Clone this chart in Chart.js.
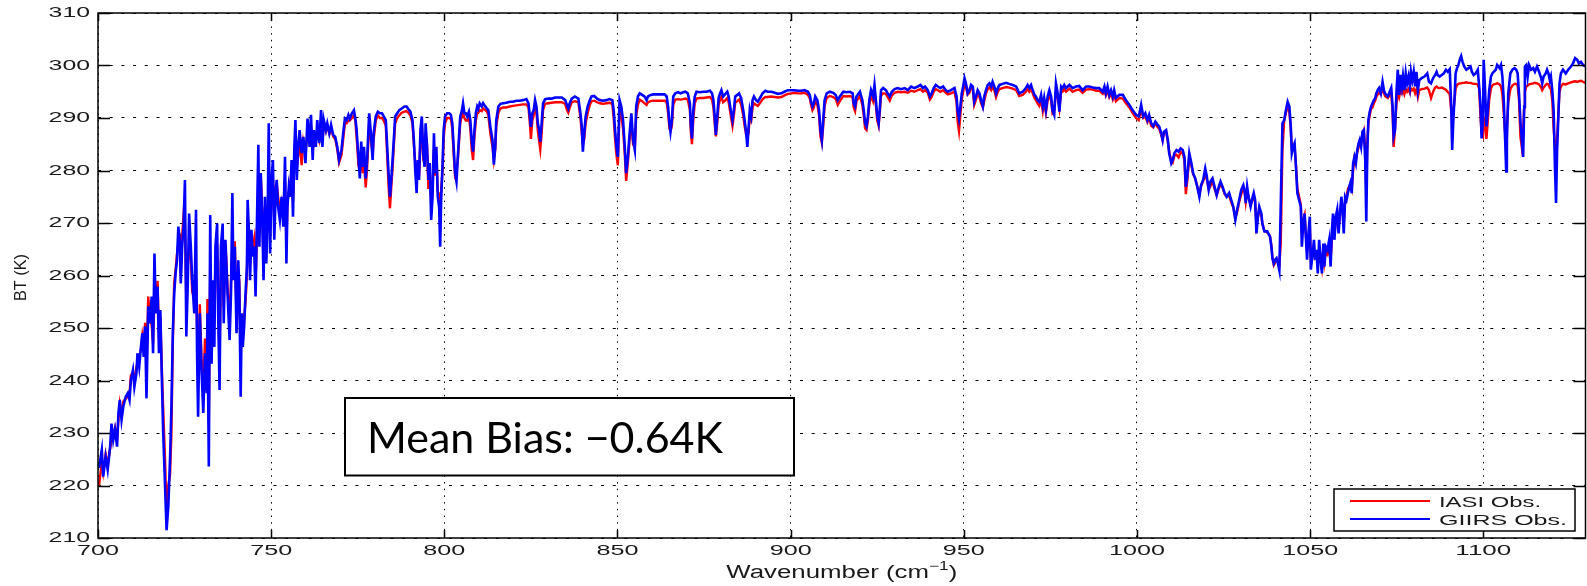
<!DOCTYPE html>
<html lang="en">
  <head>
    <meta charset="UTF-8" />
    <title>IASI vs GIIRS BT</title>
    <style>
      * {
        margin: 0;
        padding: 0;
      }
      body {
        background: #fff;
        width: 1587px;
        height: 586px;
        overflow: hidden;
      }
    </style>
  </head>
  <body>
    <canvas id="myChart" width="1587" height="586"></canvas>

    <script src="https://cdn.jsdelivr.net/npm/chart.js"></script>

    <script>
      // data block - wavenumber (cm-1)
      const WAVENUMBER = [
        // 700 - 761
        700.3, 701.1, 701.5, 702.2, 702.8, 703.5, 703.9, 704.4, 704.9, 705.5,
        705.9, 706.3, 706.8, 707.3, 708.0, 708.6, 709.1, 709.5, 710.1, 710.5,
        711.1, 711.4, 711.9, 712.4, 712.8, 713.2, 713.6, 714.0, 714.5, 715.0,
        715.5, 715.9, 716.3, 716.7, 717.2, 717.6, 718.0, 718.4, 718.8, 719.3,
        719.8, 720.3, 720.8, 721.2, 721.6, 722.0, 722.4, 722.8, 723.2, 723.6,
        723.9, 724.3, 724.7, 725.1, 725.5, 725.9, 726.3, 726.8, 727.2, 727.8,
        728.3, 728.6, 728.9, 729.4, 729.9, 730.4, 730.9, 731.4, 731.6, 732.0,
        732.4, 732.8, 733.2, 733.6, 733.9, 734.4, 734.7, 735.1, 735.5, 736.0,
        736.3, 736.8, 737.4, 738.0, 738.4, 738.8, 739.1, 739.5, 740.0, 740.5,
        740.8, 741.2, 741.5, 741.8, 742.2, 742.6, 743.0, 743.2, 743.6, 743.9,
        744.3, 744.7, 745.1, 745.5, 745.9, 746.3, 746.6, 747.0, 747.5, 747.8,
        748.2, 748.6, 749.0, 749.3, 749.7, 750.1, 750.5, 750.9, 751.3, 751.6,
        752.0, 752.5, 753.0, 753.5, 754.0, 754.4, 754.7, 755.1, 755.5, 755.9,
        756.3, 756.7, 757.0, 757.4, 757.8, 758.2, 758.8, 759.3, 759.9, 760.5,
        761.1,
        // 761 - 850
        761.5, 762.0, 762.3, 762.9, 763.3, 763.9, 764.4, 764.8, 765.2, 765.8,
        766.2, 766.8, 767.3, 767.9, 768.5, 769.1, 769.6, 770.3, 770.8, 771.3,
        771.8, 772.3, 772.7, 773.3, 773.9, 774.3, 774.6, 775.2, 775.6, 776.0,
        776.4, 776.8, 777.3, 777.7, 778.3, 778.8, 779.3, 779.6, 780.2, 780.8,
        781.4, 782.0, 782.5, 783.1, 783.5, 783.9, 784.3, 784.6, 785.0, 785.4,
        785.8, 786.4, 787.0, 787.7, 788.5, 789.1, 789.6, 790.2, 790.8, 791.2,
        791.6, 792.0, 792.3, 792.7, 793.1, 793.5, 793.9, 794.3, 794.6, 795.0,
        795.4, 795.8, 796.2, 796.6, 797.0, 797.3, 797.7, 798.1, 798.5, 798.8,
        799.1, 799.5, 799.8, 800.2, 800.8, 801.4, 801.9, 802.3, 802.7, 803.1,
        803.5, 803.9, 804.3, 804.6, 805.0, 805.4, 805.8, 806.2, 806.6, 807.1,
        807.5, 807.9, 808.3, 808.7, 809.1, 809.5, 809.8, 810.2, 810.8, 811.2,
        811.8, 812.3, 812.7, 813.3, 813.9, 814.3, 814.7, 815.0, 815.6, 816.2,
        817.0, 817.9, 818.9, 819.8, 820.8, 821.8, 822.7, 823.7, 824.3, 824.7,
        825.0, 825.4, 825.8, 826.2, 826.6, 827.0, 827.4, 827.7, 828.1, 828.5,
        829.1, 830.0, 831.0, 832.0, 832.9, 833.9, 834.9, 835.4, 835.8, 836.2,
        836.8, 837.7, 838.7, 839.3, 839.7, 840.0, 840.4, 840.8, 841.4, 842.0,
        842.5, 843.3, 844.1, 844.9, 845.8, 846.8, 847.7, 848.5, 848.9, 849.3,
        849.7,
        // 850 - 950
        850.1, 850.6, 851.1, 851.6, 852.1, 852.5, 853.0, 853.5, 854.0, 854.5,
        855.0, 855.4, 855.9, 856.4, 857.1, 857.8, 858.4, 858.8, 859.6, 860.3,
        861.1, 861.9, 862.6, 863.6, 864.2, 864.6, 865.0, 865.3, 865.7, 866.1,
        866.7, 867.5, 868.2, 869.0, 869.6, 870.3, 870.9, 871.2, 871.5, 871.9,
        872.3, 872.8, 873.8, 874.8, 875.7, 876.7, 877.3, 877.7, 878.0, 878.4,
        878.8, 879.2, 879.6, 880.0, 880.5, 880.9, 881.3, 881.7, 882.1, 882.7,
        883.2, 883.6, 884.0, 884.6, 885.1, 885.7, 886.3, 886.7, 887.1, 887.5,
        887.8, 888.2, 888.6, 889.0, 889.4, 890.0, 890.5, 891.1, 891.9, 892.7,
        893.4, 894.4, 895.4, 896.3, 897.3, 898.2, 899.2, 900.2, 901.1, 902.1,
        903.0, 904.0, 905.0, 905.5, 905.9, 906.3, 906.7, 907.1, 907.7, 908.2,
        908.6, 909.0, 909.4, 909.8, 910.4, 911.3, 912.3, 913.0, 913.6, 914.2,
        915.2, 916.1, 917.1, 917.9, 918.2, 918.6, 919.0, 920.0, 920.7, 921.1,
        921.5, 921.9, 922.3, 922.7, 923.2, 923.8, 924.2, 924.6, 925.0, 925.4,
        925.7, 926.1, 926.7, 927.5, 928.0, 928.6, 929.2, 930.0, 930.9, 931.9,
        932.9, 933.8, 934.8, 935.7, 936.7, 937.5, 938.2, 938.8, 939.6, 940.2,
        940.7, 941.3, 941.9, 942.5, 943.2, 944.0, 944.8, 945.4, 946.3, 947.3,
        947.9, 948.2, 948.6, 949.0, 949.4, 949.8,
        // 950 - 1041
        950.2, 950.6, 951.1, 951.6, 952.1, 952.6, 953.0, 953.5, 954.0, 954.5,
        955.0, 955.5, 955.9, 956.4, 956.9, 957.4, 957.9, 958.3, 958.8, 959.3,
        959.8, 960.3, 961.2, 962.2, 963.1, 964.1, 965.1, 966.0, 967.0, 967.9,
        968.4, 968.9, 969.4, 969.9, 970.4, 970.8, 971.3, 971.8, 972.3, 972.8,
        973.2, 973.7, 974.2, 974.7, 975.2, 975.6, 976.1, 976.6, 977.1, 977.6,
        978.1, 978.5, 979.0, 979.5, 980.5, 981.4, 982.4, 983.3, 984.3, 985.3,
        986.2, 987.2, 988.2, 989.1, 990.1, 990.6, 991.0, 991.5, 992.0, 992.5,
        993.0, 993.4, 993.9, 994.9, 995.9, 996.8, 997.8, 998.7, 999.7, 1000.5,
        1000.9, 1001.2, 1001.8, 1002.4, 1003.0, 1003.5, 1004.1, 1004.7, 1005.3, 1005.9,
        1006.4, 1007.0, 1007.4, 1007.8, 1008.4, 1008.9, 1009.3, 1009.9, 1010.3, 1010.8,
        1011.4, 1012.0, 1012.6, 1013.2, 1013.7, 1014.1, 1014.5, 1015.1, 1015.7, 1016.2,
        1016.8, 1017.4, 1018.0, 1018.5, 1019.1, 1019.7, 1020.1, 1020.7, 1021.2, 1021.8,
        1022.4, 1023.0, 1023.6, 1024.1, 1024.7, 1025.3, 1025.9, 1026.6, 1027.2, 1027.8,
        1028.4, 1028.9, 1029.5, 1030.1, 1030.7, 1031.1, 1031.4, 1031.8, 1032.2, 1032.8,
        1033.4, 1033.7, 1034.1, 1034.5, 1034.9, 1035.3, 1035.9, 1036.2, 1036.8, 1037.6,
        1038.4, 1038.8, 1039.1, 1039.5, 1039.9, 1040.3, 1040.7, 1041.1,
        // 1041 - 1130
        1041.5, 1042.0, 1042.5, 1043.0, 1043.5, 1044.0, 1044.4, 1044.7, 1045.1, 1045.5,
        1045.9, 1046.3, 1046.8, 1047.3, 1047.6, 1048.0, 1048.4, 1048.8, 1049.1, 1049.5,
        1049.9, 1050.2, 1050.7, 1051.1, 1051.4, 1051.8, 1052.2, 1052.6, 1053.0, 1053.4,
        1053.8, 1054.1, 1054.5, 1055.0, 1055.5, 1055.9, 1056.3, 1056.6, 1057.0, 1057.4,
        1057.8, 1058.2, 1058.6, 1059.0, 1059.3, 1059.7, 1060.1, 1060.5, 1060.9, 1061.3,
        1061.6, 1062.0, 1062.4, 1062.8, 1063.2, 1063.6, 1064.0, 1064.3, 1064.7, 1065.1,
        1065.5, 1065.9, 1066.2, 1066.5, 1066.8, 1067.2, 1067.6, 1068.0, 1068.4, 1068.8,
        1069.1, 1069.5, 1069.9, 1070.4, 1070.9, 1071.3, 1071.6, 1072.0, 1072.4, 1072.8,
        1073.4, 1073.8, 1074.1, 1074.5, 1074.9, 1075.3, 1075.7, 1076.1, 1076.5, 1076.8,
        1077.2, 1077.6, 1078.0, 1078.4, 1078.8, 1079.1, 1079.5, 1079.9, 1080.3, 1080.7,
        1081.1, 1081.5, 1082.2, 1083.0, 1083.8, 1084.3, 1084.9, 1085.5, 1086.1, 1086.5,
        1086.8, 1087.4, 1088.0, 1088.6, 1089.2, 1089.7, 1090.3, 1090.7, 1091.0, 1091.3,
        1091.7, 1092.0, 1092.4, 1092.8, 1093.2, 1093.6, 1094.0, 1094.5, 1095.1, 1095.7,
        1096.3, 1096.7, 1097.2, 1097.8, 1098.4, 1098.8, 1099.2, 1099.5, 1099.9, 1100.1,
        1100.5, 1100.9, 1101.3, 1101.7, 1102.2, 1102.6, 1103.0, 1103.6, 1104.0, 1104.4,
        1104.7, 1105.1, 1105.5, 1105.9, 1106.3, 1106.6, 1106.8, 1107.2, 1107.8, 1108.4,
        1109.0, 1109.5, 1109.9, 1110.3, 1110.7, 1111.1, 1111.5, 1111.8, 1112.0, 1112.4,
        1112.8, 1113.2, 1113.8, 1114.4, 1114.9, 1115.5, 1116.1, 1116.7, 1117.0, 1117.4,
        1118.0, 1118.4, 1118.8, 1119.2, 1119.5, 1119.9, 1120.3, 1120.7, 1121.0, 1121.3,
        1121.7, 1122.0, 1122.4, 1123.0, 1123.8, 1124.5, 1125.3, 1125.9, 1126.5, 1127.1,
        1127.6, 1128.2, 1128.8, 1129.4
      ];

      // GIIRS observed brightness temperature (K)
      const GIIRS_BT = [
        223.3, 226.8, 221.7, 225.5, 223.0, 227.4, 231.8, 228.7, 230.6, 227.4,
        233.8, 236.3, 232.5, 235.0, 236.9, 237.6, 236.3, 240.1, 242.0, 238.8,
        241.4, 245.2, 242.6, 246.4, 249.0, 244.5, 250.3, 236.6, 254.1, 250.9,
        256.0, 245.2, 264.2, 252.8, 257.9, 245.2, 253.4, 241.4, 230.6, 221.0,
        211.5, 216.0, 225.0, 235.0, 249.0, 256.6, 260.4, 262.9, 269.3, 266.8,
        258.5, 265.5, 269.3, 278.2, 248.4, 257.9, 271.8, 265.5, 259.1, 252.8,
        272.5, 245.2, 233.1, 252.8, 242.0, 233.8, 245.2, 237.6, 252.8, 223.6,
        271.5, 243.2, 259.1, 246.4, 265.5, 269.9, 252.8, 238.2, 265.5, 269.9,
        250.9, 266.8, 256.6, 247.7, 256.6, 275.7, 259.1, 265.5, 249.0, 262.9,
        257.9, 236.9, 252.8, 246.4, 250.3, 256.6, 261.7, 274.4, 268.0, 259.1,
        268.7, 263.6, 265.5, 256.0, 270.6, 284.9, 265.5, 279.5, 268.7, 259.1,
        275.0, 262.3, 271.8, 289.0, 264.2, 278.2, 282.0, 266.8, 275.7, 278.2,
        273.1, 270.6, 275.0, 269.3, 282.6, 262.3, 273.1, 276.9, 275.0, 282.0,
        271.2, 284.5, 289.6, 278.2, 284.5, 287.7, 283.3, 286.4, 281.4, 289.9,
        284.5,
        290.6, 282.0, 287.7, 284.5, 289.6, 285.2, 291.5, 284.5, 289.6, 287.7,
        289.0, 287.1, 288.7, 286.8, 286.4, 284.5, 282.0, 283.9, 287.1, 289.9,
        289.6, 290.6, 289.9, 290.9, 291.5, 289.9, 288.3, 282.6, 278.5, 285.5,
        280.7, 284.5, 278.5, 282.0, 290.9, 287.1, 282.0, 287.1, 290.3, 291.2,
        290.9, 290.9, 290.3, 289.6, 284.5, 279.5, 275.0, 277.6, 281.4, 285.8,
        290.3, 290.9, 291.5, 291.8, 292.2, 292.2, 291.7, 291.2, 289.6, 285.8,
        280.1, 275.7, 282.0, 278.2, 287.7, 290.3, 283.3, 280.7, 289.0, 284.5,
        278.2, 281.4, 270.6, 275.0, 287.1, 279.5, 284.5, 275.0, 273.1, 265.5,
        275.0, 281.4, 287.7, 290.3, 290.9, 290.9, 290.6, 289.0, 284.5, 279.5,
        277.9, 282.6, 287.1, 290.3, 291.2, 292.8, 290.9, 290.9, 290.3, 291.2,
        289.6, 285.8, 283.6, 287.7, 290.9, 292.2, 291.8, 292.8, 292.2, 292.8,
        292.2, 291.8, 291.5, 288.3, 285.8, 281.1, 284.5, 289.6, 292.2, 292.7,
        292.8, 292.9, 293.1, 293.1, 293.3, 293.3, 293.4, 293.6, 292.8, 290.3,
        288.3, 290.9, 291.5, 293.4, 292.2, 289.0, 287.7, 285.5, 289.0, 292.8,
        293.6, 293.7, 293.7, 293.9, 293.9, 293.9, 293.4, 292.5, 291.8, 292.8,
        293.7, 294.1, 293.7, 290.9, 288.3, 283.6, 287.1, 290.3, 292.2, 293.4,
        294.1, 294.2, 293.7, 293.4, 293.3, 293.4, 293.6, 293.4, 291.5, 287.7,
        284.5,
        282.6, 293.4, 292.2, 289.6, 284.5, 279.5, 282.6, 287.1, 290.9, 285.8,
        283.9, 292.2, 294.1, 294.7, 294.4, 294.1, 293.4, 294.1, 294.4, 294.5,
        294.5, 294.5, 294.5, 294.5, 294.1, 292.2, 289.0, 287.4, 289.6, 294.1,
        294.7, 294.9, 294.7, 294.9, 295.0, 294.7, 292.8, 288.4, 286.1, 291.5,
        294.1, 295.0, 294.9, 295.0, 295.0, 295.2, 294.7, 293.4, 290.9, 286.8,
        290.3, 293.8, 294.7, 295.3, 294.1, 294.4, 294.7, 295.0, 294.1, 291.5,
        289.6, 291.5, 294.1, 294.4, 294.7, 293.8, 291.5, 289.6, 287.4, 284.5,
        287.7, 291.5, 290.3, 293.4, 294.1, 293.4, 293.1, 293.8, 294.7, 295.2,
        295.0, 295.0, 294.8, 294.6, 294.7, 295.0, 295.3, 295.3, 295.3, 295.2,
        295.2, 295.3, 295.0, 294.4, 293.1, 292.2, 292.8, 294.1, 293.4, 291.5,
        287.7, 285.8, 289.6, 293.4, 294.7, 295.0, 294.8, 294.4, 293.4, 294.1,
        295.0, 294.9, 295.0, 294.7, 292.8, 292.2, 294.1, 295.0, 293.4, 291.5,
        289.0, 288.4, 290.3, 293.4, 295.3, 294.1, 296.3, 293.4, 290.3, 289.0,
        291.5, 295.3, 295.7, 295.3, 294.7, 294.1, 295.0, 295.5, 295.7, 295.5,
        295.7, 295.3, 296.0, 295.7, 296.0, 296.3, 295.7, 296.0, 295.3, 294.1,
        294.7, 295.7, 296.3, 296.0, 295.7, 296.0, 295.3, 295.0, 295.3, 295.7,
        294.1, 291.5, 289.9, 292.2, 294.7, 296.0,
        297.6, 296.6, 294.7, 295.3, 296.3, 296.0, 293.1, 294.1, 295.3, 294.7,
        293.4, 292.2, 294.1, 295.3, 296.3, 296.6, 296.0, 296.9, 296.0, 294.7,
        295.7, 296.3, 296.5, 296.7, 296.5, 296.3, 296.0, 294.7, 295.0, 295.7,
        296.3, 295.7, 296.3, 295.3, 294.4, 294.1, 293.4, 293.1, 294.4, 292.2,
        293.8, 291.5, 294.1, 295.3, 294.1, 291.5, 290.6, 296.6, 294.7, 291.2,
        296.0, 295.7, 296.3, 295.7, 296.3, 295.7, 296.0, 296.1, 295.3, 296.0,
        296.0, 295.8, 295.7, 295.7, 295.0, 296.0, 294.7, 296.0, 294.4, 295.3,
        294.1, 295.3, 293.8, 294.4, 294.4, 293.4, 292.5, 291.5, 290.6, 290.3,
        291.5, 292.5, 290.3, 290.9, 289.6, 290.6, 289.0, 288.4, 289.3, 288.7,
        288.4, 287.1, 285.8, 287.4, 287.7, 285.8, 283.3, 281.4, 282.0, 283.3,
        283.9, 283.6, 284.2, 283.9, 282.6, 276.9, 278.8, 283.3, 281.4, 279.5,
        278.5, 276.9, 275.0, 277.2, 278.2, 280.4, 279.1, 276.3, 277.9, 278.5,
        276.9, 275.3, 276.9, 277.9, 276.9, 275.7, 275.0, 275.7, 274.4, 273.1,
        270.6, 272.5, 274.4, 276.3, 277.2, 276.0, 273.8, 276.9, 275.0, 273.1,
        275.0, 275.7, 274.4, 268.0, 271.2, 273.1, 271.8, 269.9, 268.4, 268.4,
        267.4, 265.5, 263.3, 262.3, 263.0, 263.3, 262.3, 261.0,
        273.1, 289.0, 289.6, 291.5, 293.1, 292.2, 288.4, 283.3, 284.5, 285.2,
        280.7, 275.7, 274.4, 273.1, 265.5, 269.9, 271.8, 266.8, 263.0, 268.0,
        271.2, 261.1, 264.2, 266.8, 263.0, 264.9, 260.4, 266.8, 263.0, 260.4,
        266.1, 261.7, 265.5, 264.9, 266.8, 261.7, 268.7, 271.8, 266.8, 271.2,
        272.5, 268.0, 271.8, 275.0, 273.1, 268.0, 275.0, 274.4, 275.7, 276.9,
        277.6, 275.7, 281.4, 282.6, 281.4, 283.9, 285.2, 285.8, 284.5, 287.4,
        287.7, 282.0, 270.3, 283.9, 289.6, 291.2, 292.2, 292.8, 293.4, 293.8,
        294.7, 295.3, 295.7, 294.7, 296.9, 295.3, 294.7, 294.4, 294.1, 294.7,
        295.7, 292.2, 286.5, 287.7, 294.7, 299.2, 294.4, 298.2, 296.0, 297.9,
        295.3, 298.5, 296.6, 297.9, 296.0, 298.8, 297.2, 298.8, 296.0, 298.8,
        295.3, 297.2, 297.6, 297.9, 298.5, 296.9, 296.6, 297.6, 298.2, 298.8,
        298.2, 297.9, 298.2, 298.5, 299.2, 298.8, 299.3, 292.8, 283.9, 289.0,
        294.1, 298.5, 299.5, 300.1, 301.1, 301.8, 300.7, 299.8, 299.2, 299.5,
        299.8, 298.8, 298.2, 298.5, 299.2, 296.0, 292.2, 286.1, 289.6, 301.1,
        295.3, 288.4, 291.5, 295.3, 297.9, 298.5, 298.8, 299.2, 300.1, 299.8,
        299.5, 300.1, 297.9, 293.4, 285.8, 279.8, 285.8, 294.7, 298.5, 299.2,
        299.5, 299.2, 298.5, 294.7, 289.6, 285.8, 282.6, 292.2, 299.8, 300.1,
        297.9, 300.1, 299.2, 299.5, 298.8, 299.8, 298.8, 297.6, 296.6, 297.9,
        298.5, 299.2, 298.5, 297.2, 297.9, 295.3, 291.5, 280.1, 273.8, 283.9,
        290.9, 296.6, 298.5, 299.2, 298.5, 299.2, 299.8, 300.4, 301.4, 301.1,
        300.4, 300.7, 300.1, 299.8
      ];

      // IASI observed brightness temperature (K)
      const IASI_BT = [
        220.0, 224.5, 222.5, 226.0, 224.0, 227.0, 228.5, 229.5, 231.0, 229.0,
        232.5, 235.5, 233.5, 236.0, 236.5, 237.0, 237.5, 241.0, 241.5, 240.0,
        242.5, 243.5, 244.5, 246.0, 248.5, 246.5, 251.0, 242.0, 256.0, 252.0,
        250.5, 247.0, 255.5, 255.0, 259.0, 248.0, 252.0, 243.0, 235.0, 226.0,
        215.0, 220.0, 222.0, 230.0, 247.0, 258.5, 261.0, 264.0, 266.0, 268.0,
        260.0, 267.5, 271.5, 270.0, 255.0, 262.0, 265.5, 263.0, 257.0, 255.5,
        259.5, 250.0, 240.0, 254.5, 244.0, 238.0, 248.0, 241.0, 255.5, 232.0,
        262.0, 246.0, 257.0, 251.0, 263.0, 266.0, 255.0, 244.0, 262.5, 267.0,
        254.0, 266.0, 258.0, 251.0, 258.5, 266.0, 261.0, 266.5, 252.0, 260.5,
        259.0, 245.0, 250.0, 249.0, 252.0, 255.0, 260.0, 271.0, 268.5, 262.0,
        266.0, 265.5, 267.0, 259.0, 268.0, 276.0, 268.0, 279.0, 271.0, 262.0,
        273.0, 265.0, 272.0, 280.0, 268.0, 277.0, 278.5, 270.0, 277.0, 277.5,
        275.0, 272.5, 274.0, 271.0, 278.0, 266.0, 274.0, 276.0, 277.0, 280.5,
        274.0, 282.0, 285.0, 280.5, 283.0, 285.5, 281.0, 285.5, 283.5, 287.0,
        286.0,
        288.5, 283.5, 286.5, 285.5, 288.0, 286.0, 289.5, 285.5, 289.0, 287.5,
        288.5, 287.0, 288.0, 286.5, 286.0, 284.0, 281.5, 283.0, 286.0, 289.0,
        289.0, 289.5, 289.5, 290.0, 290.5, 289.5, 287.0, 281.0, 280.0, 284.0,
        279.5, 282.0, 276.8, 280.5, 289.0, 286.0, 283.0, 286.0, 289.5, 290.5,
        290.0, 290.0, 289.5, 288.5, 283.0, 277.0, 272.8, 276.0, 280.0, 284.5,
        289.0, 290.0, 290.5, 291.0, 291.2, 291.3, 291.0, 290.5, 289.0, 285.0,
        281.5, 278.0, 281.0, 279.0, 285.5, 289.0, 282.0, 281.5, 287.0, 285.0,
        276.5, 280.0, 274.0, 276.0, 284.0, 279.0, 283.0, 276.0, 275.5, 270.0,
        276.5, 280.0, 286.0, 289.0, 290.0, 290.0, 289.8, 288.0, 283.0, 279.0,
        279.5, 282.0, 286.0, 289.0, 290.3, 291.0, 290.0, 289.5, 289.5, 290.2,
        288.0, 284.0, 282.0, 286.5, 289.5, 291.0, 291.0, 291.5, 291.3, 291.8,
        291.5, 291.2, 290.5, 287.0, 284.5, 282.0, 284.0, 288.5, 291.0, 291.8,
        292.0, 292.0, 292.2, 292.3, 292.4, 292.5, 292.6, 292.6, 292.0, 289.0,
        286.0, 289.5, 290.5, 292.0, 291.0, 287.5, 285.5, 284.0, 287.0, 291.5,
        292.7, 292.8, 292.9, 293.0, 293.0, 293.0, 292.7, 291.5, 291.0, 292.0,
        293.0, 293.2, 293.0, 290.0, 287.0, 285.0, 286.0, 289.0, 291.0, 292.5,
        293.2, 293.3, 293.0, 292.8, 292.7, 292.8, 292.9, 292.7, 290.0, 286.0,
        283.0,
        281.0, 291.5, 290.5, 288.0, 283.0, 278.0, 281.5, 286.0, 289.5, 285.0,
        284.5, 290.5, 292.5, 293.5, 293.2, 292.8, 292.5, 293.0, 293.2, 293.3,
        293.3, 293.3, 293.3, 293.3, 293.0, 291.0, 288.0, 287.5, 288.5, 292.5,
        293.5, 293.6, 293.5, 293.6, 293.7, 293.5, 291.5, 287.0, 285.0, 290.0,
        292.8, 293.7, 293.8, 293.8, 293.9, 294.0, 293.5, 292.0, 289.5, 286.5,
        289.0, 292.5, 293.5, 294.0, 293.0, 293.2, 293.5, 293.8, 293.0, 290.5,
        288.5, 290.5, 293.0, 293.2, 293.5, 292.5, 290.5, 288.5, 287.0, 286.5,
        287.0, 290.0, 289.5, 292.0, 292.8, 292.5, 292.3, 292.8, 293.6, 294.0,
        294.0, 294.1, 294.0, 293.9, 294.0, 294.3, 294.6, 294.7, 294.8, 294.7,
        294.7, 294.8, 294.4, 293.8, 292.5, 291.5, 292.0, 293.3, 292.5, 290.5,
        286.5, 285.3, 288.5, 292.3, 293.8, 294.2, 294.0, 293.6, 292.5, 293.2,
        294.2, 294.1, 294.2, 293.9, 292.0, 291.3, 293.2, 294.2, 292.5, 290.5,
        288.0, 287.7, 289.5, 292.5, 294.3, 293.2, 294.8, 292.5, 289.5, 288.5,
        290.8, 294.3, 294.7, 294.6, 294.0, 293.3, 294.3, 294.8, 295.0, 294.9,
        295.0, 294.8, 295.2, 295.0, 295.3, 295.5, 295.0, 295.3, 294.8, 293.5,
        294.0, 295.0, 295.5, 295.3, 295.0, 295.3, 294.8, 294.5, 294.7, 295.0,
        293.0, 289.5, 287.5, 290.5, 293.5, 295.0,
        296.5, 296.0, 294.5, 294.8, 295.8, 295.5, 292.5, 293.5, 294.8, 294.0,
        292.8, 292.0, 293.3, 294.7, 295.5, 295.8, 295.3, 296.0, 295.3, 294.0,
        295.0, 295.5, 295.7, 295.9, 295.8, 295.6, 295.3, 294.2, 294.4, 295.0,
        295.5, 295.0, 295.5, 294.7, 293.8, 293.4, 292.8, 292.3, 293.5, 291.3,
        293.0, 291.0, 293.3, 294.5, 293.3, 291.0, 291.5, 295.0, 294.0, 291.8,
        295.0, 295.0, 295.5, 295.0, 295.6, 295.0, 295.3, 295.4, 294.8, 295.4,
        295.5, 295.4, 295.2, 295.2, 294.6, 295.3, 294.3, 295.2, 294.0, 294.7,
        293.6, 294.6, 293.2, 293.8, 293.7, 292.8, 292.0, 291.0, 290.0, 289.6,
        290.8, 291.5, 290.0, 290.3, 289.2, 290.0, 288.5, 288.2, 289.0, 288.3,
        288.0, 286.8, 285.8, 287.3, 287.4, 285.6, 283.5, 281.8, 281.5, 282.8,
        283.0, 282.5, 283.5, 283.3, 282.0, 275.5, 278.0, 282.5, 281.0, 279.3,
        278.5, 277.0, 275.5, 277.0, 278.0, 279.0, 278.5, 276.5, 277.0, 278.0,
        276.5, 275.3, 276.5, 277.3, 276.8, 275.5, 275.0, 275.3, 274.0, 273.0,
        271.0, 272.0, 274.0, 275.5, 276.5, 275.8, 274.0, 276.0, 275.0, 273.5,
        274.5, 275.3, 274.0, 269.5, 271.0, 272.5, 271.5, 269.8, 268.5, 268.2,
        267.5, 265.8, 263.5, 262.0, 262.5, 263.0, 262.5, 262.0,
        266.0, 284.0, 289.5, 291.0, 292.5, 291.0, 288.0, 284.0, 284.0, 284.5,
        281.0, 276.5, 275.0, 273.5, 268.0, 270.5, 271.5, 267.5, 264.5, 267.0,
        269.5, 263.0, 264.5, 265.5, 263.5, 264.0, 262.0, 265.0, 263.5, 261.5,
        264.5, 262.5, 264.5, 264.0, 265.5, 263.0, 267.0, 270.0, 267.5, 270.5,
        272.0, 269.5, 271.0, 274.0, 273.5, 270.0, 274.0, 275.0, 276.5, 277.0,
        277.5, 276.5, 280.0, 282.5, 282.0, 283.5, 284.5, 285.5, 285.0, 286.5,
        287.5, 284.0, 276.0, 285.0, 289.0, 290.5, 291.8, 292.0, 292.8, 293.3,
        294.0, 294.5, 294.8, 294.5, 295.5, 294.8, 294.2, 294.0, 293.8, 294.2,
        295.0, 291.0, 284.5, 288.0, 292.5, 295.0, 294.0, 295.5, 294.8, 295.3,
        294.5, 295.5, 295.0, 295.5, 294.8, 295.6, 295.3, 295.6, 294.7, 295.5,
        294.0, 295.3, 295.5, 295.6, 295.8, 295.3, 293.8, 295.0, 295.8, 296.0,
        295.8, 295.7, 295.8, 295.6, 295.4, 295.0, 294.5, 291.5, 290.0, 291.0,
        293.5, 295.6, 296.3, 296.5, 296.6, 296.6, 296.7, 296.7, 296.8, 296.7,
        296.7, 296.6, 296.5, 296.5, 296.4, 295.5, 290.0, 287.0, 286.5, 290.0,
        289.0, 286.0, 289.5, 293.5, 295.6, 296.2, 296.4, 296.5, 296.6, 296.5,
        296.4, 296.0, 294.5, 291.0, 287.0, 285.0, 288.0, 293.0, 295.5, 296.2,
        296.5, 296.5, 296.2, 293.5, 286.5, 284.5, 288.0, 292.0, 295.0, 296.0,
        296.2, 296.4, 296.5, 296.6, 296.7, 296.6, 296.4, 295.8, 295.3, 295.8,
        296.3, 296.5, 296.4, 295.8, 295.5, 293.5, 288.0, 284.5, 280.0, 286.0,
        291.5, 295.0, 296.0, 296.5, 296.4, 296.6, 296.8, 296.9, 297.0, 296.9,
        297.0, 297.1, 296.9, 296.7
      ];

      // tick labels
      const X_TICKS = [700, 750, 800, 850, 900, 950, 1000, 1050, 1100];
      const Y_TICKS = [210, 220, 230, 240, 250, 260, 270, 280, 290, 300, 310];

      const SERIES_NAMES = ["IASI Obs.", "GIIRS Obs."];
      const BIAS_TEXT = "Mean Bias: \u22120.64K";

      // text squeezed/stretched to a given width (the source picture is stretched sideways)
      function stretchText(ctx, text, x, y, width, align) {
        const w = ctx.measureText(text).width;
        let x0 = x;
        if (align === "right") x0 = x - width;
        if (align === "center") x0 = x - width / 2;
        ctx.save();
        ctx.translate(x0, y);
        ctx.scale(width / w, 1);
        ctx.textAlign = "left";
        ctx.fillText(text, 0, 0);
        ctx.restore();
      }

      // plugin block - matlab style frame, ticks, labels, legend, bias box
      const matlabFrame = {
        id: "matlabFrame",
        afterDatasetsDraw(chart) {
          const {
            ctx,
            chartArea: { left, top, right, bottom },
            scales: { x, y }
          } = chart;

          ctx.save();
          ctx.setLineDash([]);
          ctx.strokeStyle = "#000";
          ctx.lineWidth = 1.5;

          // inward tick marks on all four sides
          ctx.beginPath();
          X_TICKS.forEach((v) => {
            const px = Math.round(x.getPixelForValue(v)) + 0.5;
            ctx.moveTo(px, bottom);
            ctx.lineTo(px, bottom - 8);
            ctx.moveTo(px, top);
            ctx.lineTo(px, top + 8);
          });
          Y_TICKS.forEach((v) => {
            const py = Math.round(y.getPixelForValue(v)) + 0.5;
            ctx.moveTo(left, py);
            ctx.lineTo(left + 12, py);
            ctx.moveTo(right, py);
            ctx.lineTo(right - 12, py);
          });
          ctx.stroke();
          ctx.strokeRect(left, top, right - left, bottom - top);

          // tick labels
          ctx.fillStyle = "#1a1a1a";
          ctx.font = "15px 'Liberation Sans'";
          ctx.textBaseline = "alphabetic";
          X_TICKS.forEach((v) => {
            const label = String(v);
            stretchText(ctx, label, x.getPixelForValue(v), bottom + 17, label.length * 14, "center");
          });
          ctx.textBaseline = "middle";
          Y_TICKS.forEach((v) => {
            const label = String(v);
            stretchText(ctx, label, left - 8, y.getPixelForValue(v), label.length * 13.8, "right");
          });

          // x axis title with superscript
          ctx.textBaseline = "alphabetic";
          const big = "18px 'Liberation Sans'";
          const small = "12px 'Liberation Sans'";
          const parts = [
            { t: "Wavenumber (cm", f: big, dy: 0 },
            { t: "\u22121", f: small, dy: -8 },
            { t: ")", f: big, dy: 0 }
          ];
          let total = 0;
          parts.forEach((p) => {
            ctx.font = p.f;
            p.w = ctx.measureText(p.t).width;
            total += p.w;
          });
          const k = 231 / total;
          let cx = (left + right) / 2 - 231 / 2;
          parts.forEach((p) => {
            ctx.font = p.f;
            stretchText(ctx, p.t, cx, bottom + 40 + p.dy, p.w * k, "left");
            cx += p.w * k;
          });

          // y axis title
          ctx.save();
          ctx.translate(25.5, (top + bottom) / 2 + 2);
          ctx.rotate(-Math.PI / 2);
          ctx.font = "17px 'Liberation Sans'";
          ctx.textBaseline = "alphabetic";
          stretchText(ctx, "BT (K)", 0, 0, 47, "center");
          ctx.restore();

          // mean bias box
          ctx.fillStyle = "#fff";
          ctx.fillRect(345, 398, 449, 77.5);
          ctx.lineWidth = 2;
          ctx.strokeRect(345, 398, 449, 77.5);
          ctx.fillStyle = "#000";
          ctx.font = "42px Lato";
          ctx.textBaseline = "alphabetic";
          stretchText(ctx, BIAS_TEXT, 367, 453, 356, "left");

          // legend
          const lx = 1334, ly = 489, lw = 241, lh = 42;
          ctx.fillStyle = "#fff";
          ctx.fillRect(lx, ly, lw, lh);
          ctx.lineWidth = 1.5;
          ctx.strokeStyle = "#000";
          ctx.strokeRect(lx, ly, lw, lh);
          const colors = ["#ff0000", "#0000ff"];
          const rows = [501, 519];
          const widths = [102, 128];
          ctx.font = "15px 'Liberation Sans'";
          SERIES_NAMES.forEach((name, i) => {
            ctx.strokeStyle = colors[i];
            ctx.lineWidth = 2;
            ctx.beginPath();
            ctx.moveTo(lx + 16, rows[i]);
            ctx.lineTo(lx + 96, rows[i]);
            ctx.stroke();
            ctx.fillStyle = "#1a1a1a";
            stretchText(ctx, name, lx + 105, rows[i] + 5.5, widths[i], "left");
          });

          ctx.restore();
        }
      };

      // config block
      const config = {
        type: "line",
        data: {
          datasets: [
            {
              label: SERIES_NAMES[1],
              data: WAVENUMBER.map((w, i) => ({ x: w, y: GIIRS_BT[i] })),
              borderColor: "#0000ff",
              borderWidth: 2.6,
              order: 1
            },
            {
              label: SERIES_NAMES[0],
              data: WAVENUMBER.map((w, i) => ({ x: w, y: IASI_BT[i] })),
              borderColor: "#ff0000",
              borderWidth: 2.4,
              order: 2
            }
          ]
        },
        options: {
          responsive: false,
          animation: false,
          layout: { padding: { left: 98, top: 13, right: 1.5, bottom: 48 } },
          elements: { point: { radius: 0 }, line: { tension: 0 } },
          plugins: { legend: { display: false }, tooltip: { enabled: false } },
          scales: {
            x: {
              type: "linear",
              min: 700,
              max: 1129.5,
              afterBuildTicks: (scale) => {
                scale.ticks = X_TICKS.map((v) => ({ value: v }));
              },
              ticks: { display: false },
              grid: { color: "#000", lineWidth: 1, drawTicks: false },
              border: { display: false, dash: [1.5, 5.2] }
            },
            y: {
              type: "linear",
              min: 210,
              max: 310,
              afterBuildTicks: (scale) => {
                scale.ticks = Y_TICKS.map((v) => ({ value: v }));
              },
              ticks: { display: false },
              grid: { color: "#000", lineWidth: 1, drawTicks: false },
              border: { display: false, dash: [3, 8.7] }
            }
          }
        },
        plugins: [matlabFrame]
      };

      // init render block
      const myChart = new Chart(document.getElementById("myChart"), config);
    </script>
  </body>
</html>
